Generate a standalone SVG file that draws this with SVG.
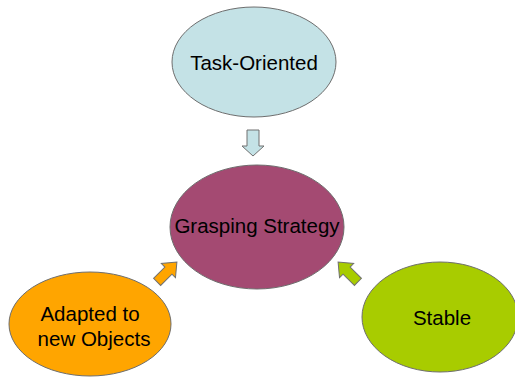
<svg xmlns="http://www.w3.org/2000/svg" width="515" height="377" viewBox="0 0 515 377">
<style>
.n{stroke:#6e6e6e;stroke-width:1}
.t{font-family:"Liberation Sans",Arial,sans-serif;font-size:20.5px;fill:#000;text-anchor:middle}
.a{stroke:#707070;stroke-width:1}
</style>
<defs>
<path id="arr" d="M-14,-5 L2,-5 L2,-10 L14,0 L2,10 L2,5 L-14,5 Z"/>
</defs>
<rect width="515" height="377" fill="#fff"/>
<g id="connectors">
<path class="a" fill="#c4e2e6" d="M247,130 L259,130 L259,146 L264,146 L253,156 L242,146 L247,146 Z"/>
<use href="#arr" class="a" fill="#ffa500" transform="translate(167,272) rotate(-45)"/>
<use href="#arr" class="a" fill="#a8cc00" transform="translate(348,272) rotate(-135)"/>
</g>
<g id="task">
<ellipse class="n" cx="254" cy="62" rx="82" ry="55" fill="#c4e2e6"/>
<text class="t" x="254" y="70">Task-Oriented</text>
</g>
<g id="grasping">
<ellipse class="n" cx="257" cy="227" rx="87" ry="62" fill="#a44a72"/>
<text class="t" x="257" y="233">Grasping Strategy</text>
</g>
<g id="adapted">
<ellipse class="n" cx="90" cy="324" rx="81" ry="52" fill="#ffa500"/>
<text class="t" x="90" y="321">Adapted to</text>
<text class="t" x="94" y="346">new Objects</text>
</g>
<g id="stable">
<ellipse class="n" cx="440" cy="317" rx="78" ry="55" fill="#a8cc00"/>
<text class="t" x="442" y="325">Stable</text>
</g>
</svg>
